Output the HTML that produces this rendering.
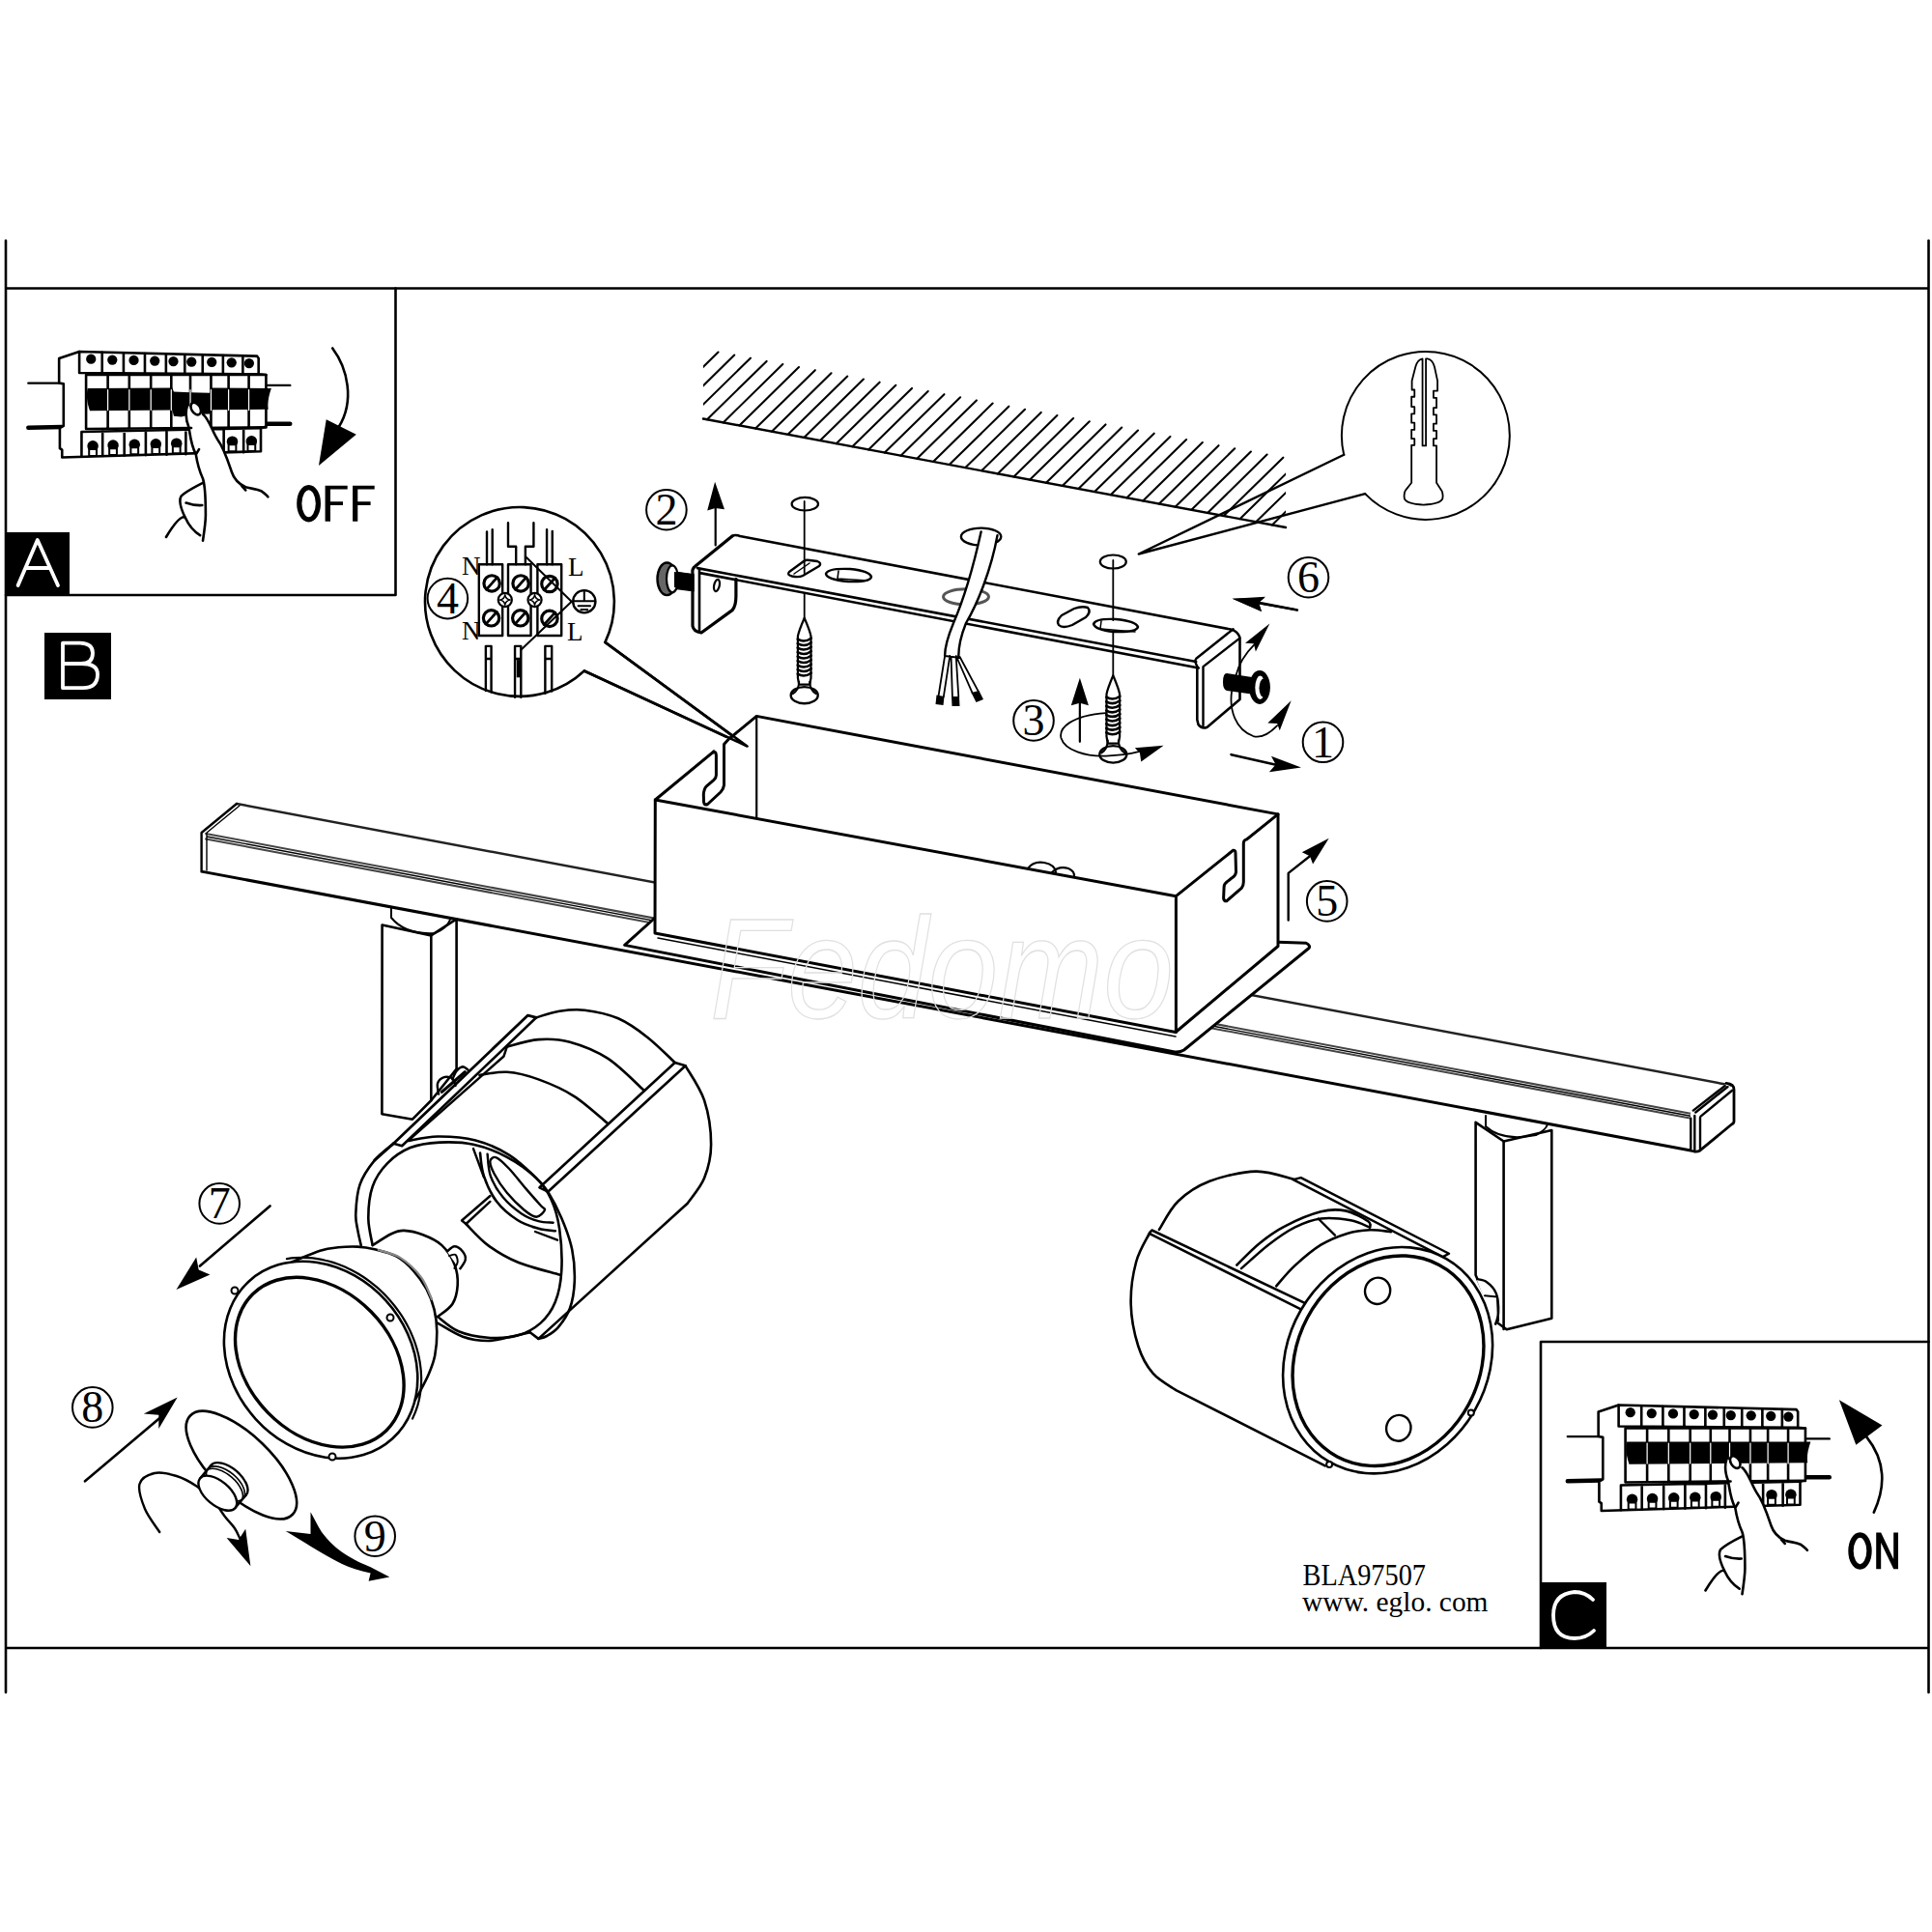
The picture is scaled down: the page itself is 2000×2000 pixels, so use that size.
<!DOCTYPE html>
<html><head><meta charset="utf-8"><style>
html,body{margin:0;padding:0;background:#fff;}
svg{display:block;}
svg *{vector-effect:non-scaling-stroke;}
.k{fill:none;stroke:#000;stroke-linejoin:round;stroke-linecap:round;}
.w{fill:#fff;stroke:#000;stroke-linejoin:round;}
.f{fill:#000;stroke:none;}
.t{font-family:"Liberation Serif",serif;}
</style></head><body>
<svg width="2000" height="2000" viewBox="0 0 2000 2000">
<rect x="0" y="0" width="2000" height="2000" fill="#fff"/>
<!-- FRAME -->
<g class="k" stroke-width="2.6" stroke-linecap="butt">
<path d="M6,249V1752M1996.5,249V1752M6,298.5H1996.5M6,1706H1996.5"/>
<path d="M6,616H409.5V298.5M1595,1706V1389H1996.5"/>
</g>
<!-- LABELS -->
<rect x="6" y="551" width="66" height="65" fill="#000"/>
<rect x="46" y="655" width="69" height="69" fill="#000"/>
<rect x="1595" y="1638" width="68" height="68" fill="#000"/>
<defs>
<g id="pbase">
 <g transform="translate(20,350) scale(0.15528)">
  <path class="k" stroke-width="2.4" d="M60,300H265M1645,315H1805"/>
  <path class="k" stroke-width="4.5" d="M60,597L285,592M1645,572L1805,572"/>
  <path class="w" stroke-width="2.6" d="M265,135L400,90L1585,120L1595,135V240L1645,245V590L1610,600V755L285,795V745L270,735V600L295,585V305L265,300Z"/>
  <path class="k" stroke-width="2.6" d="M400,90V232L1595,240M552,95V232M695,100V234M837,104V235M978,108V236M1103,111V237M1222,114V238M1358,117V238M1490,120V239"/>
  <path class="k" stroke-width="2.6" d="M445,245H1645M445,245V605L1645,595M590,245V604M733,245V603M877,245V602M1013,245V601M1140,245V600M1278,245V599M1395,245V598M1530,245V597"/>
  <path class="k" stroke-width="2.6" d="M415,625L1610,600M415,625V790M555,622V785M700,619V783M843,616V780M982,613V777M1110,610V774M1240,607V770M1363,605V768M1495,602V762"/>
  <g class="f">
   <circle cx="478" cy="140" r="33"/><circle cx="620" cy="145" r="33"/><circle cx="763" cy="148" r="33"/><circle cx="903" cy="152" r="33"/><circle cx="1027" cy="155" r="33"/><circle cx="1148" cy="158" r="33"/><circle cx="1283" cy="160" r="33"/><circle cx="1415" cy="163" r="33"/><circle cx="1532" cy="168" r="33"/>
   <circle cx="490" cy="720" r="37"/><circle cx="625" cy="715" r="37"/><circle cx="768" cy="710" r="37"/><circle cx="910" cy="707" r="37"/><circle cx="1048" cy="703" r="37"/><circle cx="1420" cy="690" r="37"/><circle cx="1548" cy="688" r="37"/>
  </g>
  <g fill="#fff" stroke="#000" stroke-width="2">
   <rect x="465" y="740" width="50" height="45"/><rect x="600" y="735" width="50" height="45"/><rect x="743" y="730" width="50" height="45"/><rect x="885" y="727" width="50" height="45"/><rect x="1023" y="723" width="50" height="45"/><rect x="1395" y="710" width="50" height="45"/><rect x="1523" y="708" width="50" height="45"/>
  </g>
 </g>
</g>
<g id="hand">
 <g transform="translate(160,410) scale(0.07246)">
  <path fill="#fff" stroke="none" d="M470,130L450,250L455,360L490,450L510,600L540,720L590,830L610,960L640,1060L690,1180L720,1300L730,1500L730,1700L705,1932L684,2066L648,1987L560,1932L510,1860L440,1740L380,1600L370,1480L430,1380L570,1300L690,1240L1210,1260L1140,1180L1100,1080L1060,960L1010,830L970,720L900,620L840,520L800,420L760,330L690,260Z"/>
  <path class="k" stroke-width="2.6" d="M470,130C440,220 450,350 490,450C510,560 520,700 590,830C610,960 630,1050 690,1180C730,1300 730,1500 730,1700C730,1800 715,1900 690,2066"/>
  <path class="k" stroke-width="2.6" d="M690,260C780,330 830,520 900,620C990,740 1040,900 1100,1080C1140,1200 1210,1260 1300,1300C1400,1330 1440,1320 1530,1360C1580,1390 1600,1420 1620,1440"/>
  <path class="k" stroke-width="2.6" d="M690,1240C570,1300 430,1380 380,1430C340,1500 370,1600 440,1740C480,1830 540,1920 650,1990"/>
  <path class="k" stroke-width="2.6" d="M450,1525C520,1550 600,1565 680,1560M430,1730C380,1720 300,1790 165,2015M600,820L635,760M1250,1290L1300,1345M490,455L525,455"/>
  <ellipse class="w" stroke-width="2.6" cx="590" cy="180" rx="62" ry="95" transform="rotate(-32 590 180)"/>
 </g>
</g>
</defs>
<use href="#pbase"/>
<g transform="translate(20,350) scale(0.15528)"><path class="f" d="M455,335Q440,400 470,485L1020,480L1030,520L1080,525L1140,510L1270,505L1280,478L1660,475Q1650,420 1680,335L1280,332L1270,365L1140,362L1030,358L1020,332Z"/><path class="k" stroke-width="1.2" style="stroke:#fff" d="M590,345V480M733,345V480M877,345V480M1013,345V480M1140,345V480M1278,345V480M1395,345V480M1530,345V480"/></g>
<use href="#hand"/>
<use href="#pbase" transform="translate(1593.5,1090.5)"/>
<g transform="translate(1613.5,1440.5) scale(0.15528)"><path class="f" d="M455,335Q440,400 470,485L1660,475Q1650,420 1680,335Z"/><path class="k" stroke-width="1.2" style="stroke:#fff" d="M590,345V480M733,345V480M877,345V480M1013,345V480M1140,345V480M1278,345V480M1395,345V480M1530,345V480"/></g>
<use href="#hand" transform="translate(1593.5,1090.5)"/>
<g transform="translate(0,200) scale(0.2588)">
 <path class="k" stroke-width="2.6" d="M1330,620C1390,700 1420,830 1355,935"/>
 <path class="f" d="M1275,1090L1305,905L1425,965Z"/>
</g>
<g transform="translate(1580,1370) scale(0.2174)">
 <path class="k" stroke-width="2.6" d="M1655,900C1720,760 1700,640 1620,540"/>
 <path class="f" d="M1490,365L1570,578L1695,485Z"/>
</g>
<g id="offtxt"><ellipse class="k" stroke-width="5.2" cx="319.6" cy="521.2" rx="9.8" ry="16.65"/>
<path class="f" d="M336.6,502.8h23.1v3.8h-17.7v12.7h13v3.8h-13v16.6h-5.4z M365.1,502.8h22.6v3.8h-17.4v12.7h13.3v3.8h-13.3v16.6h-5.2z"/></g>
<g id="ontxt"><ellipse class="k" stroke-width="5.4" cx="1925.5" cy="1605.5" rx="9.5" ry="16.55"/>
<path class="f" d="M1942.2,1624.3V1586.6H1947.2L1960.2,1613.9V1586.6H1965V1624.3H1960.2L1947.2,1597V1624.3Z"/></g>
<g class="k" style="stroke:#fff" stroke-width="3.8">
 <path d="M18.6,606L38.8,559L60,606M27,588H51"/>
 <path d="M65,665.6V712.2H86Q101,712 101,698Q101,687 84,687H65M65,665.6H83Q96,666 96,676Q96,687 84,687"/>
 <path d="M1649,1656Q1641,1648 1630,1648Q1608,1650 1608,1672Q1608,1696 1630,1696Q1642,1696 1650,1688"/>
</g>
<g id="hatch">
<clipPath id="hclip"><rect x="728" y="300" width="603" height="260"/></clipPath>
<path class="k" stroke-width="2.1" stroke-linecap="butt" clip-path="url(#hclip)" d="M710.1,358.3L648.5,418.7M726.8,361.4L665.2,421.8M743.5,364.5L681.9,424.9M760.2,367.6L698.6,428.0M776.9,370.7L715.3,431.1M793.6,373.9L732.0,434.2M810.3,377.0L748.7,437.4M827.0,380.1L765.4,440.5M843.8,383.2L782.1,443.6M860.5,386.3L798.9,446.7M877.2,389.5L815.6,449.8M893.9,392.6L832.3,453.0M910.6,395.7L849.0,456.1M927.3,398.8L865.7,459.2M944.0,401.9L882.4,462.3M960.7,405.1L899.1,465.4M977.4,408.2L915.8,468.6M994.1,411.3L932.5,471.7M1010.9,414.4L949.3,474.8M1027.6,417.5L966.0,477.9M1044.3,420.7L982.7,481.0M1061.0,423.8L999.4,484.1M1077.7,426.9L1016.1,487.3M1094.4,430.0L1032.8,490.4M1111.1,433.1L1049.5,493.5M1127.8,436.3L1066.2,496.6M1144.5,439.4L1083.0,499.7M1161.2,442.5L1099.7,502.9M1178.0,445.6L1116.4,506.0M1194.7,448.7L1133.1,509.1M1211.4,451.9L1149.8,512.2M1228.1,455.0L1166.5,515.3M1244.8,458.1L1183.2,518.4M1261.5,461.2L1199.9,521.6M1278.2,464.3L1216.6,524.7M1294.9,467.5L1233.4,527.8M1311.6,470.6L1250.1,530.9M1328.3,473.7L1266.8,534.0M1345.1,476.8L1283.5,537.2M1361.8,479.9L1300.2,540.3M1378.5,483.1L1316.9,543.4M1395.2,486.2L1333.6,546.5"/>
<path class="k" stroke-width="2.4" d="M728,433.5L1331,546"/>
</g>
<g id="anchor" transform="translate(1250,330) scale(0.20704)">
 <path class="k" stroke-width="2" d="M682,680A420,420 0 1 1 788,875"/>
 <path class="k" stroke-width="2.4" d="M682,680L-344,1176L788,875"/>
 <path class="k" stroke-width="1.8" d="M1075,200V635H1092V200M1075,200Q1050,205 1040,240L1022,310V355H1035V390H1020V440H1035V475H1020V520H1035V555H1020V600H1035V632H1020V820L990,858Q980,875 985,900Q995,925 1080,930Q1165,925 1175,900Q1180,875 1170,858L1145,820V635H1130V600H1145V560H1130V525H1145V480H1130V445H1145V395H1130V360H1150V310L1135,240Q1125,205 1100,200H1092"/>
 <path class="k" stroke-width="2.2" d="M445,1455L160,1405"/>
 <path class="f" d="M125,1400L290,1390L255,1420L270,1462Z"/>
</g>
<g id="nums">
<circle class="k" stroke-width="2" cx="1369.5" cy="768.3" r="20.8"/>
<text x="1369.5" y="783.8" text-anchor="middle" font-family="Liberation Serif" font-size="46">1</text>
<circle class="k" stroke-width="2" cx="689.9" cy="527.7" r="20.8"/>
<text x="689.9" y="543.2" text-anchor="middle" font-family="Liberation Serif" font-size="46">2</text>
<circle class="k" stroke-width="2" cx="1070" cy="745.9" r="20.8"/>
<text x="1070" y="761.4" text-anchor="middle" font-family="Liberation Serif" font-size="46">3</text>
<circle class="k" stroke-width="2" cx="463.4" cy="619.6" r="20.8"/>
<text x="463.4" y="635.1" text-anchor="middle" font-family="Liberation Serif" font-size="46">4</text>
<circle class="k" stroke-width="2" cx="1373.7" cy="932.9" r="20.8"/>
<text x="1373.7" y="948.4" text-anchor="middle" font-family="Liberation Serif" font-size="46">5</text>
<circle class="k" stroke-width="2" cx="1354.5" cy="597.7" r="20.8"/>
<text x="1354.5" y="613.2" text-anchor="middle" font-family="Liberation Serif" font-size="46">6</text>
<circle class="k" stroke-width="2" cx="227.2" cy="1245.9" r="20.8"/>
<text x="227.2" y="1261.4" text-anchor="middle" font-family="Liberation Serif" font-size="46">7</text>
<circle class="k" stroke-width="2" cx="95.8" cy="1456.9" r="20.8"/>
<text x="95.8" y="1472.4" text-anchor="middle" font-family="Liberation Serif" font-size="46">8</text>
<circle class="k" stroke-width="2" cx="388.2" cy="1590.2" r="20.8"/>
<text x="388.2" y="1605.7" text-anchor="middle" font-family="Liberation Serif" font-size="46">9</text>
</g>
<g id="bracket">
 <!-- top face + flanges white fill -->
 <path class="w" stroke-width="0" d="M761,554L1277,652.7L1284,662V724L1249.7,752.7L1241,751L1239.3,745V691L724.6,593.1V651L727,655.2L758.1,631.6L761.9,616.7V599L717,588L719.6,586.3Z"/>
 <g class="k">
  <path stroke-width="2.6" d="M758,555Q761,553 766,555L1274,651.5Q1281,653 1283.5,660V724L1249.7,752.7Q1244,755 1240.5,750L1239.3,745V690"/>
  <path stroke-width="3.2" d="M758,555L719.6,586.3Q716,589 717,594V648Q718,654 726,655L758.1,631.6Q762,627 761.9,616.7V599.3"/>
  <path stroke-width="2.6" d="M722,588.1L1238.2,685M724.6,593.1L1240.8,691.5M724,590V653"/>
  <path stroke-width="2.4" d="M1276.6,651.2L1238.3,681.8Q1236,684 1239.3,690M1282.8,661.1L1245.5,690.1V751"/>
  <ellipse stroke-width="2.2" cx="742" cy="606" rx="2.8" ry="6.2" transform="rotate(12 742 606)"/>
  <!-- slots -->
  <path stroke-width="2.4" d="M880,589Q900,591 902,597Q901,603 878,602Q856,600 855,594Q857,588 880,589Z"/>
  <path stroke-width="1.6" d="M868,591L867,599M867,599L898,601"/>
  <ellipse stroke-width="3" style="stroke:#555" cx="1000" cy="617.8" rx="23.5" ry="8"/>
  <path stroke-width="2.4" d="M1096,647Q1093,643 1099,637L1112,630Q1120,627 1126,629Q1130,633 1124,639L1110,647Q1100,651 1096,647Z"/>
  <path stroke-width="2.4" d="M1155,641Q1176,643 1178,649Q1176,655 1153,654Q1134,652 1132,646Q1134,640 1155,641Z"/>
  <path stroke-width="1.5" d="M1140,643L1139,651L1175,654"/>
  <path stroke-width="2.4" d="M836,579.8L846,581Q851,583 848,586L831,596Q827,598 820,596.5Q814,595 817,592L832,581Q834,579.6 836,579.8Z"/>
  <path stroke-width="1.5" d="M822,594L838,583"/>
 </g>
</g>
<defs>
<g id="screw">
 <path class="w" stroke-width="2.2" d="M0,0C-3,7 -6,14 -6.8,19V62L-5.5,69H5.5L6.8,62V19C6,14 3,7 0,0Z"/>
 <path class="k" stroke-width="2.6" d="M-7,22Q0,26 7,21M-7,26.5Q0,30.5 7,25.5M-7,31Q0,35 7,30M-7,35.5Q0,39.5 7,34.5M-7,40Q0,44 7,39M-7,44.5Q0,48.5 7,43.5M-7,49Q0,53 7,48M-7,53.5Q0,57.5 7,52.5M-7,58Q0,62 7,57"/>
 <ellipse class="w" stroke-width="2.4" cx="0" cy="80" rx="14" ry="8.6"/>
 <path class="k" stroke-width="2" d="M-5.5,66Q-6,75 -12,78.5M5.5,66Q6,75 12,78.5"/>
</g>
</defs>
<g id="bparts">
 <g class="k" stroke-width="1.8">
  <ellipse class="k" stroke-width="2.2" cx="833.3" cy="521.7" rx="13.7" ry="6.8"/>
  <ellipse class="k" stroke-width="2.2" cx="1152.3" cy="581.5" rx="13.5" ry="7"/>
  <path d="M832.7,519V593M832.7,614V640M1152.3,580V642M1152.3,655V699"/>
 </g>
 <use href="#screw" transform="translate(832.7,639.7)"/>
 <use href="#screw" transform="translate(1152.3,699.3) scale(1,1.02)"/>
 <!-- cable -->
 <ellipse class="k" stroke-width="2.4" cx="1015.6" cy="555.6" rx="20.7" ry="9"/>
 <path class="w" stroke-width="0" d="M1015.6,550.5C1008,585 1000,615 987,645C980,662 978,670 978.1,679L992.3,681C992,670 994,660 1000,645C1012,625 1026,590 1032.5,554.3Z"/>
 <path class="k" stroke-width="2.4" d="M1015.6,550.5C1008,585 1000,615 987,645C980,662 978,670 978.1,679M1032.5,554.3C1026,590 1012,625 1000,645C994,660 992,670 992.3,681"/>
 <path class="k" stroke-width="1.8" d="M978.1,679L971.6,720M983.3,679L976.8,721.3M984.6,681L985.9,721.3M989.8,681L992.3,721.3M989.8,679L1006.6,717.4M993.6,680L1013,716.1M978,679L994,681"/>
 <path class="f" d="M969.5,719.5L977.5,721L976.5,730L968.5,729ZM985,721L993,721L993.5,731L985.5,731ZM1005.5,717L1013.5,715L1018,724L1010.5,727Z"/>
 <!-- left bolt -->
 <path class="f" d="M692.9,590.6L718.4,594.3V612.4L692.9,609.3Z"/>
 <ellipse cx="690.4" cy="599.3" rx="9.9" ry="16.8" fill="#666" stroke="#000" stroke-width="2.4"/>
 <ellipse class="w" stroke-width="2.2" cx="696" cy="599.3" rx="6" ry="14"/>
 <path class="f" d="M698,592L718.4,594.3V612.4L698,608Z"/>
 <!-- right bolt -->
 <path class="f" d="M1270,697L1299.4,701.4V719L1270,715Q1266,714 1266,706Q1266,697 1270,697Z"/>
 <ellipse class="f" cx="1304" cy="711.5" rx="10.9" ry="17.4"/>
 <ellipse class="w" stroke-width="1.6" cx="1304.5" cy="711.8" rx="6" ry="13"/>
 <ellipse class="f" cx="1308.5" cy="712.3" rx="5" ry="10"/>
 <!-- arrows -->
 <g transform="translate(1200,600) scale(0.10352)">
  <path class="k" stroke-width="1.8" d="M770,950C800,830 860,740 950,650"/>
  <path class="f" d="M1105,440L860,635L945,640L965,720Z"/>
  <path class="k" stroke-width="1.8" d="M725,1120C700,1300 760,1500 940,1565C1040,1590 1120,1520 1180,1460"/>
  <path class="f" d="M1320,1210L1085,1435L1180,1440L1205,1510Z"/>
  <path class="k" stroke-width="2.6" d="M1380,305L980,228"/>
  <path class="f" d="M730,190L1055,180L995,230L1025,320Z"/>
  <path class="k" stroke-width="2.6" d="M720,1750L1180,1855"/>
  <path class="f" d="M1420,1880L1120,1765L1165,1850L1100,1925Z"/>
 </g>
 <g transform="translate(850,500) scale(0.2588)">
  <path class="k" stroke-width="1.8" d="M1140,920C1000,930 950,980 960,1020C975,1070 1060,1095 1140,1092C1190,1090 1230,1085 1270,1075"/>
  <path class="f" d="M1370,1050L1255,1060L1275,1080L1280,1115Z"/>
  <path class="k" stroke-width="2.2" d="M1035,1035V880"/>
  <path class="f" d="M1035,780L1000,890L1035,880L1070,890Z"/>
 </g>
 <path class="k" stroke-width="2.2" d="M740.7,564.5V526"/>
 <path class="f" d="M740.1,498.7L732.2,528.5L740.5,526L750,527.3Z"/>
</g>
<g id="wiring">
 <path class="w" stroke-width="2.6" d="M626.4,664.9L772.7,772.5L604.8,694.5"/>
 <g transform="translate(430,510) scale(0.11387)">
  <path class="k" stroke-width="2.6" d="M1725,1360A860,860 0 1 0 1535,1620"/>
  <path class="k" stroke-width="2.4" d="M650,355V652M700,335V652M843,275V490H915V652M1075,275V490H1000V652M1195,335V652M1245,350V652"/>
  <path class="k" stroke-width="2.4" d="M578,652H792V1300H578ZM843,652H1050V1300H843ZM1110,652H1328V1300H1110Z"/>
  <g class="w" stroke-width="3.2">
   <circle cx="695" cy="825" r="72"/><circle cx="958" cy="825" r="72"/><circle cx="1220" cy="830" r="72"/>
   <circle cx="690" cy="1140" r="72"/><circle cx="955" cy="1140" r="72"/><circle cx="1220" cy="1145" r="72"/>
  </g>
  <path class="k" stroke-width="2.8" d="M645,880L745,770M908,880L1008,770M1170,885L1270,775M640,1195L740,1085M905,1195L1005,1085M1170,1200L1270,1090"/>
  <g class="w" stroke-width="2.2"><circle cx="815" cy="975" r="62"/><circle cx="1085" cy="975" r="62"/></g>
  <path class="k" stroke-width="1.6" d="M815,930Q822,968 860,975Q822,982 815,1020Q808,982 770,975Q808,968 815,930ZM1085,930Q1092,968 1130,975Q1092,982 1085,1020Q1078,982 1040,975Q1078,968 1085,930Z"/>
  <path class="k" stroke-width="2" d="M1000,580L1420,990L960,1430"/>
  <circle class="w" stroke-width="2.4" cx="1535" cy="990" r="102"/>
  <path class="k" stroke-width="2" d="M1535,900V985M1440,985H1635M1480,1030H1590M1505,1062H1565"/>
  <path class="k" stroke-width="2.4" d="M640,1800V1395H690V1812M640,1510H690M905,1860V1395H960V1860M905,1510H960M1180,1825V1395H1240V1805M1180,1510H1240"/>
  <path class="f" d="M920,1520H955V1680H920Z"/>
 </g>
 <g font-family="Liberation Serif" font-size="27">
  <text x="478" y="594.8">N</text><text x="588" y="596">L</text>
  <text x="478" y="661.5">N</text><text x="587" y="662.6">L</text>
 </g>
</g>
<!-- BAR -->
<g id="bar">
<path class="w" stroke-width="0" d="M245,832L1791.6,1123.5L1794.7,1161.8L1754.3,1191.8L208.6,902.4L208.6,862Z"/>
<g class="k">
<path stroke-width="2.4" style="stroke:#222" d="M245,832L1791.6,1123.5"/>
<path stroke-width="2" style="stroke:#444" d="M213,863L1754,1153.5M213,868.5L1752,1158"/>
<path stroke-width="3" d="M210,902.4L1754.3,1191.8"/>
<path stroke-width="2.4" d="M245,832L208.6,862V902.4"/>
<path stroke-width="1.4" d="M248,834L214,862V901M214,866L1754,1156"/>
<path class="w" stroke-width="0" d="M1787,1121.4L1795,1128V1161L1759.6,1191.2L1750,1190V1152Z"/>
<path stroke-width="2.8" d="M1787,1121.4Q1795,1122 1795,1128V1160.8Q1795,1163 1792.5,1164L1759.6,1191.2Q1757,1192.5 1754,1191.9"/>
<path stroke-width="2.4" d="M1750.3,1157.7V1189.4M1754.3,1155V1190M1760,1157V1190.5M1752.8,1149.6L1785.7,1123.9M1755.3,1151.5L1788.5,1125M1760.6,1155.6L1793.2,1128.8"/>
</g>
</g>
<g id="posts" class="k" stroke-width="2.6">
<path class="w" d="M395.6,957.5L446.3,968.4L472.6,951.3V1106.5L446.5,1139L427,1158.7L395.4,1153.3Z"/>
<path d="M446.3,968.4V1139"/>
<path stroke-width="2" d="M405,940V950Q420,968 450,966Q462,962 466,952"/>
<path class="w" d="M1527.6,1161.8L1556.6,1181.5L1606.3,1170V1364.8L1559.7,1376.2L1549.4,1368.8L1527.6,1320Z"/>
<path d="M1556.6,1181.5V1376"/>
<path stroke-width="2" d="M1538,1155V1166Q1555,1182 1590,1175Q1600,1170 1602,1164"/>
</g>
<!-- BOX -->
<g id="box" class="k">
<path class="w" stroke-width="3" d="M646.6,978.4L677.6,950.5L1323,975.3L1352,976.3Q1357,979 1355,981.5L1225.6,1087Q1222,1089.5 1216,1089L646.6,978.4Z"/>
<path class="w" stroke-width="3" d="M678.3,828L783.2,741.4L1323,842.9V979.5L1217,1068.5L678,966Z"/>
<path stroke-width="3" d="M678.3,828L1217.4,927.7L1323,842.9M1217.4,927.7V1068.5"/>
<path stroke-width="2.2" d="M783.2,741.4V847"/>
<path stroke-width="1.5" d="M681,971L1217,1073"/>
</g>
<g id="clips">
<path class="w" stroke-width="0" d="M740.8,776.4L741.4,781.8V802.5L738.7,807.6L731.4,813.9L728.3,822.1L728.5,830L732.5,832.5L746,820L749.5,812.8V770.4L754.2,765.2Z"/>
<path class="k" stroke-width="4.5" stroke-linecap="butt" style="stroke:#fff" d="M741.5,775.8L753.5,765.8"/>
<path class="k" stroke-width="3" d="M754.2,765.2L749.5,770.4V812.8Q749,817 746,820L732.5,832.5Q729,834 728.5,830L728.3,822.1Q729,816 731.4,813.9L738.7,807.6Q741.5,805 741.4,802.5V781.8Q741,777 738,779"/>
<path class="w" stroke-width="0" d="M1276.4,880.3L1279,882.1L1279.5,902.8L1278,908L1271.2,912.1L1267.1,918.3L1266.6,929.7L1269.7,932.8L1285.2,919.4L1287.3,915.2V872.8L1289.9,869.2Z"/>
<path class="k" stroke-width="4.5" stroke-linecap="butt" style="stroke:#fff" d="M1277.5,879.4L1289,870"/>
<path class="k" stroke-width="3" d="M1276.4,880.3Q1279,880 1279,883L1279.5,902.8Q1279,907 1275,909L1271.2,912.1Q1267,915 1267.1,918.3L1266.6,929.7Q1267,933 1269.7,932.8L1285.2,919.4Q1287.3,917 1287.3,913V872.8Q1287.5,870 1289.9,869.2"/>
<path class="k" stroke-width="2.4" d="M1333.7,952.5V903.9L1356,886.3"/>
<path class="f" d="M1375.7,867.7L1347.8,882.2L1356,886.3L1359.1,894.6Z"/>
</g>
<path class="k" stroke-width="2.6" d="M626.4,664.9L773.5,772.5L604.8,694.5"/>

<g id="texts">
<text x="1348.6" y="1641" font-family="Liberation Serif" font-size="32" textLength="127.4" lengthAdjust="spacingAndGlyphs">BLA97507</text>
<text x="1348" y="1667.7" font-family="Liberation Serif" font-size="30" textLength="192.5" lengthAdjust="spacingAndGlyphs">www. eglo. com</text>
</g>
<path class="k" stroke-width="2.2" d="M1064,899Q1070,891 1081,893Q1092,895 1093,903M1089,903Q1096,896 1106,899Q1113,902 1112,908"/>
<g id="lampR">
<path class="w" stroke-width="2.4" d="M1528.3,1323.9C1530.1,1324.5 1535.7,1324.6 1539.1,1327.2C1542.6,1329.7 1546.9,1333.9 1548.9,1339.1C1550.9,1344.4 1551.3,1353.3 1551.1,1358.7C1550.9,1364.1 1548.4,1369.6 1547.8,1371.7" />
<path class="k" stroke-width="2" d="M1537.0,1341.3L1550.0,1342.4L1551.1,1367.4" />
<path class="w" stroke-width="0" d="M1190.2,1275.0L1192.4,1273.5L1200.0,1272.8L1219.6,1243.5L1252.2,1222.8L1300.0,1212.6L1339.1,1220.7L1346.7,1219.1L1500.0,1297.8L1519.6,1315.2L1532.6,1337.0L1541.3,1367.4L1421.7,1523.9L1371.7,1517.4L1217.4,1439.1L1193.5,1421.7L1178.3,1393.5L1170.7,1350.0L1176.1,1306.5Z" />
<path class="k" stroke-width="2.6" d="M1200.0,1272.8C1203.3,1267.9 1210.9,1251.8 1219.6,1243.5C1228.3,1235.1 1238.8,1228.0 1252.2,1222.8C1265.6,1217.7 1285.5,1213.0 1300.0,1212.6C1314.5,1212.2 1332.6,1219.3 1339.1,1220.7" />
<path class="k" stroke-width="2.6" d="M1190.2,1276.1C1187.9,1281.2 1179.3,1294.2 1176.1,1306.5C1172.8,1318.8 1170.3,1335.5 1170.7,1350.0C1171.0,1364.5 1174.5,1381.5 1178.3,1393.5C1182.1,1405.4 1187.0,1414.1 1193.5,1421.7C1200.0,1429.3 1213.4,1436.2 1217.4,1439.1L1371.7,1517.4" />
<path class="k" stroke-width="2.6" d="M1190.2,1276.1L1192.4,1273.5L1355.4,1351.1L1346.7,1355.4L1190.2,1277.2" />
<path class="k" stroke-width="2.4" d="M1338.7,1221.1L1346.7,1219.1L1500.0,1297.8L1493.5,1301.1L1338.7,1221.1" />
<path class="k" stroke-width="2.6" d="M1280.4,1309.5C1284.3,1305.7 1295.5,1293.7 1304.0,1286.9C1312.5,1280.1 1320.6,1274.2 1331.2,1268.8C1341.8,1263.4 1357.1,1256.9 1367.4,1254.3C1377.7,1251.7 1384.7,1251.8 1392.8,1253.4C1400.9,1255.1 1412.1,1261.3 1416.3,1264.2C1420.5,1267.1 1417.8,1269.5 1418.1,1270.6" />
<path class="k" stroke-width="2.4" d="M1285.0,1313.2C1289.7,1309.1 1303.8,1295.8 1313.0,1288.7C1322.2,1281.6 1331.1,1275.1 1340.2,1270.6C1349.3,1266.1 1357.7,1262.7 1367.4,1261.5C1377.1,1260.3 1389.8,1261.8 1398.2,1263.3C1406.7,1264.8 1414.8,1269.4 1418.1,1270.6" />
<path class="k" stroke-width="2.4" d="M1364.7,1261.5L1381.9,1278.7" />
<path class="k" stroke-width="2.6" d="M1321.2,1331.3C1324.4,1327.8 1332.5,1317.5 1340.2,1310.4C1347.9,1303.3 1358.3,1294.3 1367.4,1288.7C1376.5,1283.1 1386.1,1279.5 1394.6,1276.9C1403.0,1274.3 1410.5,1273.6 1418.1,1273.3C1425.6,1273.0 1436.3,1274.8 1439.9,1275.1" />
<ellipse class="w" stroke-width="2.6" cx="1436.6" cy="1408.2" rx="103.9" ry="121.3" transform="rotate(30 1436.6 1408.2)"/>
<circle class="w" stroke-width="2" cx="1376.1" cy="1515.9" r="3"/>
<circle class="w" stroke-width="2" cx="1522.8" cy="1462.4" r="3"/>
<ellipse class="k" stroke-width="3.4" cx="1437.0" cy="1408.7" rx="94.8" ry="112.4" transform="rotate(28 1437.0 1408.7)"/>
<ellipse class="k" stroke-width="2.4" cx="1426.1" cy="1336.3" rx="13.0" ry="13.7" transform="rotate(20 1426.1 1336.3)"/>
<ellipse class="k" stroke-width="2.4" cx="1447.8" cy="1478.3" rx="12.6" ry="13.5" transform="rotate(20 1447.8 1478.3)"/>
</g>
<g id="lampL">
<path class="w" stroke-width="0" d="M407.4,1183.7L546.5,1051.1L555.2,1053.3L579.1,1046.7L605.2,1045.7L640.0,1054.3L670.4,1073.9L698.7,1100.0L709.6,1103.3L729.1,1139.1L735.7,1184.8L729.1,1219.6L711.7,1245.7L557.4,1380.4L548.7,1378.3L529.1,1382.6L505.2,1388.0L479.1,1383.7L453.0,1369.6L385.7,1289.1L372.6,1289.1L368.3,1256.5L373.7,1226.1L387.8,1201.1Z" />
<path class="k" stroke-width="2.8" d="M387.8,1201.1L407.4,1183.7L546.5,1051.1L555.2,1053.3" />
<path class="k" stroke-width="2.6" d="M407.4,1183.7L416.1,1186.3L555.2,1053.3" />
<path class="k" stroke-width="2.4" d="M422.6,1180.9L521.5,1093.5L524.8,1083.7" />
<path class="k" stroke-width="2.4" d="M454.1,1132.6C453.9,1130.8 452.1,1124.6 453.0,1121.7C453.9,1118.8 457.0,1116.1 459.6,1115.2C462.1,1114.3 466.3,1114.9 468.3,1116.3C470.3,1117.8 471.0,1122.6 471.5,1123.9" />
<path class="k" stroke-width="2.4" d="M468.3,1117.4C469.0,1115.9 470.8,1110.9 472.6,1108.7C474.4,1106.5 477.1,1104.5 479.1,1104.3C481.1,1104.2 483.7,1107.1 484.6,1107.6" />
<path class="k" stroke-width="3.2" d="M457.4,1130.4L481.3,1109.8" />
<path class="k" stroke-width="2.6" d="M555.2,1053.3C559.2,1052.2 570.8,1048.0 579.1,1046.7C587.5,1045.5 595.1,1044.4 605.2,1045.7C615.4,1046.9 629.1,1049.6 640.0,1054.3C650.9,1059.1 660.7,1066.3 670.4,1073.9C680.2,1081.5 694.0,1095.7 698.7,1100.0" />
<path class="k" stroke-width="2.6" d="M558.5,1229.3L698.7,1100.0L709.6,1103.3L567.2,1233.7L558.5,1229.3" />
<path class="k" stroke-width="2.6" d="M709.6,1103.3C712.8,1109.2 724.7,1125.5 729.1,1139.1C733.6,1152.7 736.1,1171.4 736.1,1184.8C736.1,1198.2 733.2,1209.4 729.1,1219.6C725.1,1229.7 714.6,1241.3 711.7,1245.7L557.4,1385.9L548.7,1379.3" />
<path class="k" stroke-width="2.6" d="M524.8,1083.7C530.2,1082.4 546.5,1076.9 557.4,1076.1C568.3,1075.3 578.0,1075.4 590.0,1078.7C602.0,1082.0 616.4,1087.4 629.1,1095.7C641.8,1103.9 659.9,1122.8 666.1,1128.3" />
<path class="k" stroke-width="2.6" d="M496.5,1113.0C501.2,1112.5 514.6,1109.1 524.8,1109.8C534.9,1110.5 545.8,1113.2 557.4,1117.4C569.0,1121.6 582.4,1127.2 594.3,1134.8C606.3,1142.4 623.3,1158.3 629.1,1163.0" />
<path class="k" stroke-width="2.6" d="M373.7,1289.1C373.2,1286.6 371.3,1279.3 370.4,1273.9C369.5,1268.5 367.9,1264.5 368.3,1256.5C368.6,1248.6 369.3,1235.3 372.6,1226.1C375.9,1216.8 382.0,1208.2 387.8,1201.1C393.6,1194.0 404.1,1186.6 407.4,1183.7" />
<path class="k" stroke-width="2.6" d="M422.6,1180.9C427.7,1180.1 441.4,1176.6 453.0,1176.5C464.6,1176.4 479.9,1177.2 492.2,1180.4C504.5,1183.6 516.4,1189.1 527.0,1195.7C537.5,1202.2 548.5,1213.2 555.2,1219.6C561.9,1225.9 562.8,1226.8 567.2,1233.7C571.5,1240.6 577.1,1250.9 581.3,1260.9C585.5,1270.8 589.9,1282.6 592.2,1293.5C594.4,1304.3 595.1,1315.9 594.8,1326.1C594.4,1336.2 592.8,1346.4 590.0,1354.3C587.2,1362.3 582.0,1369.1 578.0,1373.9C574.1,1378.7 569.5,1381.1 566.1,1383.0C562.6,1385.0 558.8,1385.4 557.4,1385.9" />
<path class="k" stroke-width="2.6" d="M548.7,1379.3C545.4,1380.1 536.4,1382.2 529.1,1383.7C521.9,1385.1 513.6,1388.0 505.2,1388.0C496.9,1388.0 487.8,1386.8 479.1,1383.7C470.4,1380.6 457.4,1371.9 453.0,1369.6" />
<path class="k" stroke-width="2.6" d="M385.7,1289.1C384.9,1284.4 381.3,1271.0 381.3,1260.9C381.3,1250.7 382.4,1237.7 385.7,1228.3C388.9,1218.8 394.3,1211.1 400.9,1204.3C407.4,1197.6 415.7,1191.7 424.8,1188.0C433.8,1184.4 444.3,1183.2 455.2,1182.6C466.1,1182.1 478.4,1182.2 490.0,1184.8C501.6,1187.3 513.9,1192.0 524.8,1197.8C535.7,1203.6 547.6,1212.3 555.2,1219.6C562.8,1226.8 566.4,1232.6 570.4,1241.3C574.4,1250.0 577.3,1259.4 579.1,1271.7C580.9,1284.1 582.0,1302.5 581.3,1315.2C580.6,1327.9 578.4,1338.8 574.8,1347.8C571.2,1356.9 566.1,1363.8 559.6,1369.6C553.0,1375.4 544.7,1380.1 535.7,1382.6C526.6,1385.1 515.4,1385.5 505.2,1384.8C495.1,1384.1 483.5,1381.9 474.8,1378.3C466.1,1374.6 456.7,1365.6 453.0,1363.0" />
<path class="k" stroke-width="2.4" d="M490.0,1189.1L500.9,1218.5" />
<path class="k" stroke-width="2.6" d="M497.0,1193.5C497.6,1197.5 498.0,1209.1 500.9,1217.4C503.7,1225.7 508.1,1235.9 513.9,1243.5C519.7,1251.1 528.4,1258.3 535.7,1263.0C542.9,1267.8 550.9,1269.9 557.4,1271.7C563.9,1273.6 571.9,1273.9 574.8,1274.3" />
<path class="k" stroke-width="2.4" d="M504.6,1194.6C505.1,1198.4 505.2,1210.0 507.8,1217.4C510.5,1224.8 515.1,1232.6 520.4,1239.1C525.8,1245.7 533.8,1252.4 540.0,1256.5C546.2,1260.7 552.0,1262.6 557.4,1264.1C562.8,1265.7 570.1,1265.4 572.6,1265.7" />
<path class="k" stroke-width="2.4" d="M507.4,1202.2C507.8,1199.3 510.7,1197.0 513.9,1198.3C517.2,1199.5 521.9,1204.4 527.0,1209.8C532.0,1215.1 538.9,1224.1 544.3,1230.4C549.8,1236.8 556.3,1244.1 559.6,1247.8C562.8,1251.5 564.6,1250.6 563.9,1252.6C563.2,1254.6 558.8,1259.9 555.2,1259.8C551.6,1259.7 547.2,1256.3 542.2,1252.2C537.1,1248.0 529.9,1240.9 524.8,1234.8C519.7,1228.6 514.6,1220.7 511.7,1215.2C508.8,1209.8 507.0,1205.0 507.4,1202.2Z" />
<path class="k" stroke-width="2.4" d="M507.4,1238.0L478.0,1263.5L482.4,1267.0L507.4,1243.9" />
<path class="k" stroke-width="2.6" d="M482.4,1267.0C486.2,1270.7 496.3,1282.5 505.2,1289.1C514.1,1295.7 523.3,1301.4 535.7,1306.5C548.0,1311.6 571.9,1317.4 579.1,1319.6" />
<path class="k" stroke-width="2.4" d="M554.1,1275.0L577.0,1283.7" />
<path class="w" stroke-width="0" d="M385.7,1289.1C388.9,1287.1 399.8,1279.7 405.2,1277.2C410.7,1274.6 412.8,1273.7 418.3,1273.9C423.7,1274.1 431.3,1275.7 437.8,1278.3C444.3,1280.8 452.0,1284.1 457.4,1289.1C462.8,1294.2 467.7,1301.8 470.4,1308.7C473.2,1315.6 474.1,1323.6 473.7,1330.4C473.3,1337.3 471.7,1344.6 468.3,1350.0C464.8,1355.4 455.6,1360.9 453.0,1363.0L383.5,1369.6 Z" />
<path class="k" stroke-width="2.6" d="M385.7,1289.1C388.9,1287.1 399.8,1279.7 405.2,1277.2C410.7,1274.6 412.8,1273.7 418.3,1273.9C423.7,1274.1 431.3,1275.7 437.8,1278.3C444.3,1280.8 452.0,1284.1 457.4,1289.1C462.8,1294.2 467.7,1301.8 470.4,1308.7C473.2,1315.6 474.1,1323.6 473.7,1330.4C473.3,1337.3 471.7,1344.6 468.3,1350.0C464.8,1355.4 455.6,1360.9 453.0,1363.0" />
<path class="w" stroke-width="2.4" d="M462.8,1295.7C464.1,1294.7 467.7,1290.2 470.4,1290.2C473.2,1290.2 477.2,1293.3 479.1,1295.7C481.0,1298.0 482.3,1301.3 481.7,1304.3C481.2,1307.4 476.8,1312.5 475.9,1314.1" />
<path class="k" stroke-width="2" d="M465.0,1300.0C466.1,1299.8 470.1,1297.8 471.5,1298.9C473.0,1300.0 473.9,1304.2 473.7,1306.5C473.5,1308.9 471.0,1312.0 470.4,1313.0" />
<path class="w" stroke-width="0" d="M296.0,1312.0L302.3,1306.4L331.3,1294.8L350.0,1291.3L370.2,1290.6L387.7,1293.3L410.6,1300.7L428.1,1315.5L441.5,1334.4L449.6,1355.9L452.3,1378.8L450.2,1403.3L444.0,1422.0L434.7,1440.6L428.4,1451.4Z" />
<path class="k" stroke-width="2.6" d="M302.3,1306.4C307.1,1304.5 323.4,1297.3 331.3,1294.8C339.2,1292.3 343.5,1292.0 350.0,1291.3C356.5,1290.6 363.9,1290.3 370.2,1290.6C376.5,1290.9 381.0,1291.6 387.7,1293.3C394.4,1295.0 403.9,1297.0 410.6,1300.7C417.3,1304.4 423.0,1309.9 428.1,1315.5C433.2,1321.1 437.9,1327.7 441.5,1334.4C445.1,1341.1 447.8,1348.5 449.6,1355.9C451.4,1363.3 452.2,1370.9 452.3,1378.8C452.4,1386.7 451.6,1396.1 450.2,1403.3C448.8,1410.5 446.6,1415.8 444.0,1422.0C441.4,1428.2 437.3,1435.7 434.7,1440.6C432.1,1445.5 429.4,1449.6 428.4,1451.4" />
<path class="k" stroke-width="2.2" d="M391.7,1294.0C395.5,1295.3 407.2,1297.4 414.6,1302.1C422.0,1306.8 430.7,1315.1 436.1,1322.3C441.5,1329.5 445.2,1341.2 447.0,1345.0" style="stroke:#888"/>
<ellipse class="w" stroke-width="2.6" cx="332.1" cy="1407.7" rx="110.2" ry="91.1" transform="rotate(47.7 332.1 1407.7)"/>
<ellipse class="k" stroke-width="3.4" cx="330.8" cy="1410.2" rx="98.8" ry="74.7" transform="rotate(45.7 330.8 1410.2)"/>
<path class="k" stroke-width="2.2" d="M296.9,1303.1C298.2,1302.9 302.0,1302.3 304.6,1302.1C307.2,1301.9 309.8,1301.8 312.5,1301.8C315.2,1301.8 317.8,1301.9 320.5,1302.1C323.2,1302.3 325.9,1302.7 328.6,1303.1C331.3,1303.5 334.0,1304.0 336.7,1304.7C339.4,1305.3 342.1,1306.1 344.8,1306.9C347.5,1307.8 350.2,1308.7 352.8,1309.8C355.4,1310.8 358.1,1311.9 360.7,1313.2C363.3,1314.4 365.8,1315.8 368.4,1317.2C370.9,1318.6 373.4,1320.2 375.9,1321.8C378.3,1323.4 380.7,1325.1 383.1,1326.8C385.4,1328.6 387.7,1330.5 390.0,1332.4C392.2,1334.3 394.4,1336.4 396.5,1338.4C398.7,1340.5 400.7,1342.7 402.7,1344.9C404.7,1347.1 406.6,1349.4 408.4,1351.7C410.3,1354.1 412.0,1356.5 413.7,1358.9C415.4,1361.3 417.0,1363.8 418.5,1366.4C420.0,1368.9 421.4,1371.5 422.7,1374.1C424.1,1376.7 425.3,1379.3 426.4,1382.0C427.6,1384.7 428.6,1387.4 429.6,1390.1C430.5,1392.8 431.4,1395.5 432.1,1398.3C432.9,1401.0 433.5,1403.8 434.0,1406.5C434.6,1409.3 435.0,1412.0 435.3,1414.8C435.7,1417.5 435.9,1420.3 436.0,1423.0C436.2,1425.7 436.2,1428.4 436.1,1431.1C436.0,1433.8 435.8,1436.4 435.5,1439.1C435.2,1441.7 434.8,1444.3 434.3,1446.8C433.8,1449.4 433.2,1451.9 432.5,1454.4C431.7,1456.9 430.9,1459.3 430.0,1461.7C429.1,1464.0 427.5,1467.4 427.0,1468.6" />
<circle class="w" stroke-width="2" cx="243" cy="1336" r="3.5"/>
<circle class="w" stroke-width="2" cx="404" cy="1364" r="3.5"/>
<circle class="w" stroke-width="2" cx="344" cy="1508" r="3.5"/>
<ellipse class="w" stroke-width="2.6" cx="249.9" cy="1516.6" rx="73.6" ry="31" transform="rotate(44 249.9 1516.6)"/>
<path class="k" stroke-width="2.4" d="M165.2,1586.0C162.7,1582.0 153.4,1570.3 150.0,1562.0C146.6,1553.7 142.8,1542.5 144.5,1536.3C146.2,1530.1 153.6,1526.4 160.0,1525.0C166.4,1523.6 175.6,1525.8 182.8,1528.0C190.1,1530.2 197.3,1534.4 203.5,1538.4C209.7,1542.4 215.2,1546.8 220.0,1552.0C224.8,1557.2 228.7,1564.5 232.5,1569.5C236.3,1574.5 240.3,1578.2 242.9,1582.0C245.5,1585.8 247.2,1590.3 248.0,1592.0" />
<path class="f" stroke-width="0" d="M259.4,1621.2L234.6,1592.0L247.0,1594.0L254.2,1582.8Z" />
<ellipse class="w" stroke-width="2.4" cx="236.6" cy="1532.2" rx="23.8" ry="12.4" transform="rotate(40 236.6 1532.2)"/>
<path class="w" stroke-width="0" d="M243.5,1561.0L254.8,1547.5L218.4,1516.9L207.1,1530.4Z" />
<path class="k" stroke-width="2.4" d="M243.5,1561.0L254.8,1547.5M207.1,1530.4L218.4,1516.9" />
<ellipse class="k" stroke-width="1.6" cx="231.5" cy="1538.3" rx="23.8" ry="12.4" transform="rotate(40 231.5 1538.3)"/>
<ellipse class="k" stroke-width="1.6" cx="233.5" cy="1535.8999999999999" rx="23.8" ry="12.4" transform="rotate(40 233.5 1535.8999999999999)"/>
<path class="w" stroke-width="0" d="M243.5,1561.0L254.8,1547.5L218.4,1516.9L207.1,1530.4Z" style="opacity:0"/>
<ellipse class="w" stroke-width="2.4" cx="225.3" cy="1545.7" rx="23.8" ry="12.4" transform="rotate(40 225.3 1545.7)"/>
<path class="k" stroke-width="2.6" d="M88.0,1533.3L165.6,1467.8" />
<path class="f" stroke-width="0" d="M183.7,1446.6L148.8,1463.4L164.3,1464.7L164.3,1478.9Z" />
<path class="f" stroke-width="0" d="M295.7,1585L321.5,1588L321.5,1565.3C326,1573 329,1580 333,1586C340,1595 346,1601 353,1606C363,1613 371,1617 383.6,1622.2L403.3,1632.6L381.6,1636.7L383.6,1628.5C372,1626 362,1623 354,1619C342,1613 332,1607 322,1601C313,1595 304,1590 295.7,1585Z" />
<path class="k" stroke-width="2.6" d="M279.5,1248.4L207.0,1310.6" />
<path class="f" stroke-width="0" d="M182.5,1335.1L203.2,1301.5L205.7,1314.4L217.4,1319.6Z" />
</g>
<text x="735" y="1054" font-family="Liberation Sans" font-style="italic" font-size="149" fill="none" style="stroke:#e0e0e0" stroke-width="1.3" textLength="480" lengthAdjust="spacingAndGlyphs">Fedomo</text>
</svg>
</body></html>
